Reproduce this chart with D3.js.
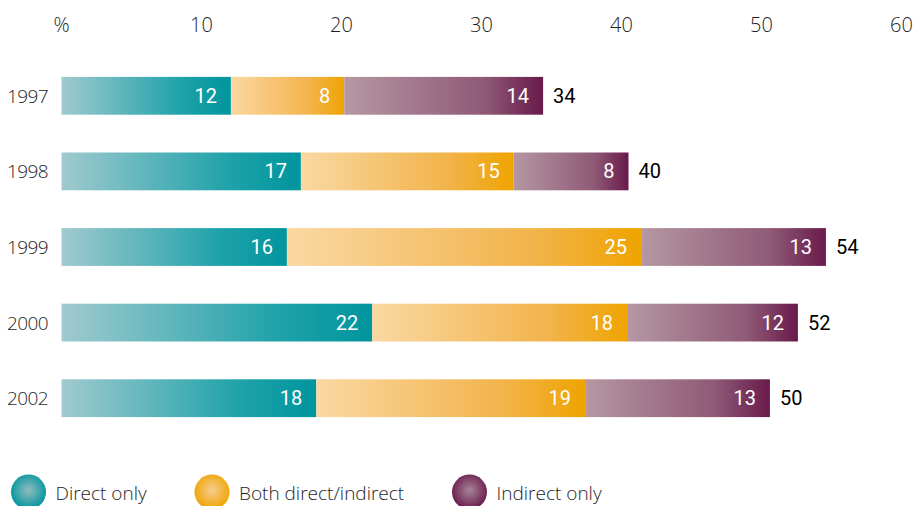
<!DOCTYPE html>
<html>
<head>
<meta charset="utf-8">
<script src="https://cdn.jsdelivr.net/npm/d3@7"></script>
<style>
body { margin: 0; background: #fff; }
svg { display: block; }
.tick-label, .year, .legend-text { font-family: "Open Sans", sans-serif; font-weight: 300; fill: #1e1e1e; }
.year { letter-spacing: -0.6px; }
.seg-label { font-family: Roboto, sans-serif; fill: #fff; }
.total { font-family: Roboto, sans-serif; font-weight: 400; fill: #000; }
</style>
</head>
<body>
<script>
// values (bar widths are a little over the printed numbers)
var years = ["1997", "1998", "1999", "2000", "2002"]
var direct = [12.1, 17.1, 16.1, 22.2, 18.2]
var both = [8.1, 15.2, 25.3, 18.2, 19.2]
var indirect = [14.2, 8.2, 13.2, 12.2, 13.2]
var directLabels = [12, 17, 16, 22, 18]
var bothLabels = [8, 15, 25, 18, 19]
var indirectLabels = [14, 8, 13, 12, 13]
var totals = [34, 40, 54, 52, 50]
var ticks = [0, 10, 20, 30, 40, 50, 60]
var legendNames = ["Direct only", "Both direct/indirect", "Indirect only"]

var width = 918, height = 506

var svg = d3.select("body").append("svg")
    .attr("width", width)
    .attr("height", height)

var xscale = d3.scaleLinear().domain([0, 60]).range([61.5, 901.5])
var yscale = d3.scaleBand().domain(years).range([58, 436]).paddingInner(0.5).paddingOuter(0.25)

var colors = [
    {light: "#a0cacf", dark: "#00959e", mid: "#1fa2a9", center: "#93bcbf"},
    {light: "#fad8a2", dark: "#efa400", mid: "#f2b34a", center: "#f6cd91"},
    {light: "#b597a3", dark: "#691a4b", mid: "#8f5a76", center: "#a78496"}
]

var defs = svg.append("defs")
colors.forEach(function (c, i)
{
    var lg = defs.append("linearGradient").attr("id", "lg" + i)
    lg.append("stop").attr("offset", "0%").attr("stop-color", c.light)
    lg.append("stop").attr("offset", "70%").attr("stop-color", c.mid)
    lg.append("stop").attr("offset", "100%").attr("stop-color", c.dark)

    var rg = defs.append("radialGradient").attr("id", "rg" + i)
        .attr("cx", "50%").attr("cy", "45%").attr("r", "55%")
    rg.append("stop").attr("offset", "0%").attr("stop-color", c.center)
    rg.append("stop").attr("offset", "100%").attr("stop-color", c.dark)
})

// top axis labels
svg.selectAll(".tick-label")
    .data(ticks)
    .enter()
    .append("text")
    .attr("class", "tick-label")
    .attr("x", function (d) { return xscale(d) })
    .attr("y", 32)
    .attr("text-anchor", "middle")
    .attr("font-size", 20)
    .text(function (d) { return d == 0 ? "%" : d })

// stack the segments
var rows = years.map(function (y, i)
{
    var segs = [direct[i], both[i], indirect[i]]
    var labs = [directLabels[i], bothLabels[i], indirectLabels[i]]
    var start = 0
    return {
        year: y,
        total: totals[i],
        segs: segs.map(function (v, k)
        {
            var s = {k: k, x0: start, x1: start + v, label: labs[k]}
            start += v
            return s
        }),
        end: start
    }
})

var row = svg.selectAll(".row")
    .data(rows)
    .enter()
    .append("g")
    .attr("class", "row")
    .attr("transform", function (d) { return "translate(0," + yscale(d.year) + ")" })

var bh = yscale.bandwidth()

row.append("text")
    .attr("class", "year")
    .attr("x", 48)
    .attr("y", bh / 2 + 7)
    .attr("text-anchor", "end")
    .attr("font-size", 19)
    .text(function (d) { return d.year })

row.selectAll("rect")
    .data(function (d) { return d.segs })
    .enter()
    .append("rect")
    .attr("x", function (s) { return xscale(s.x0) })
    .attr("width", function (s) { return xscale(s.x1) - xscale(s.x0) })
    .attr("y", 0)
    .attr("height", bh)
    .attr("fill", function (s) { return "url(#lg" + s.k + ")" })

row.selectAll(".seg-label")
    .data(function (d) { return d.segs })
    .enter()
    .append("text")
    .attr("class", "seg-label")
    .attr("x", function (s) { return xscale(s.x1) - 14 })
    .attr("y", bh / 2 + 7)
    .attr("text-anchor", "end")
    .attr("font-size", 20)
    .text(function (s) { return s.label })

row.append("text")
    .attr("class", "total")
    .attr("x", function (d) { return xscale(d.end) + 10 })
    .attr("y", bh / 2 + 7)
    .attr("font-size", 20)
    .text(function (d) { return d.total })

// legend
var legendX = [28.5, 212, 469.5]
var legend = svg.selectAll(".legend")
    .data(legendNames)
    .enter()
    .append("g")
    .attr("class", "legend")
    .attr("transform", function (d, i) { return "translate(" + legendX[i] + ",492)" })

legend.append("circle")
    .attr("r", 17.5)
    .attr("fill", function (d, i) { return "url(#rg" + i + ")" })

legend.append("text")
    .attr("class", "legend-text")
    .attr("x", 27)
    .attr("y", 8)
    .attr("font-size", 19)
    .text(function (d) { return d })
</script>
</body>
</html>
